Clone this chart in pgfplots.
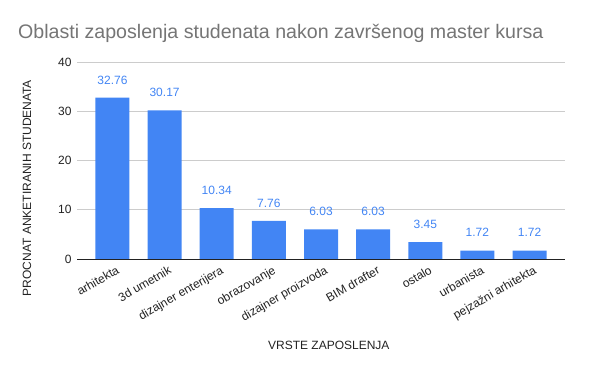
\documentclass[border=0pt]{standalone}
\usepackage{pgfplots}
\pgfplotsset{compat=1.18}
\usepackage{fontspec}
\setmainfont{Liberation Sans}
\definecolor{barblue}{HTML}{4285F4}
\definecolor{titlegray}{HTML}{757575}
\definecolor{gridgray}{HTML}{CCCCCC}
\definecolor{txt}{HTML}{222222}
\begin{document}
\begin{tikzpicture}[x=1pt,y=1pt]
\useasboundingbox (0,0) rectangle (600,371);
\node[anchor=west,text=titlegray,font=\fontsize{19.6}{24}\selectfont,inner sep=0pt] at (18,338) {Oblasti zaposlenja studenata nakon završenog master kursa};
\begin{axis}[
  at={(77pt,112pt)}, anchor=south west,
  width=488pt, height=197pt, scale only axis,
  ybar, bar width=34pt,
  xmin=-0.68, xmax=8.68,
  ymin=0, ymax=40,
  ytick={0,10,20,30,40},
  xtick={0,...,8},
  xticklabels={arhitekta,3d umetnik,dizajner enterijera,obrazovanje,dizajner proizvoda,BIM drafter,ostalo,urbanista,pejzažni arhitekta},
  xticklabel style={rotate=30, anchor=north east, font=\fontsize{12}{14}\selectfont, text=txt, inner sep=1pt, xshift=3pt, yshift=-2pt},
  yticklabel style={font=\fontsize{12}{14}\selectfont, text=txt, xshift=-2pt},
  /pgf/number format/assume math mode=true,
  axis x line*=bottom, axis y line*=left,
  x axis line style={draw=txt, line width=0.8pt, -},
  y axis line style={draw=none},
  tick style={draw=none},
  ymajorgrids, grid style={gridgray, line width=0.6pt},
  xlabel={VRSTE ZAPOSLENJA},
  ylabel={PROCNAT ANKETIRANIH STUDENATA},
  label style={font=\fontsize{12}{14}\selectfont, text=txt},
  xlabel style={at={(axis description cs:0.516,-0.4365)}, anchor=center},
  ylabel style={at={(axis description cs:-0.1025,0.36)}, anchor=center},
  nodes near coords,
  point meta=explicit symbolic,
  every node near coord/.append style={font=\fontsize{12}{14}\selectfont, text=barblue, yshift=10pt},
]
\addplot[fill=barblue, draw=none] table[meta=lab] {
x y lab
0 32.76 32.76
1 30.17 30.17
2 10.34 10.34
3 7.76 7.76
4 6.03 6.03
5 6.03 6.03
6 3.45 3.45
7 1.72 1.72
8 1.72 1.72
};
\end{axis}
\end{tikzpicture}
\end{document}
